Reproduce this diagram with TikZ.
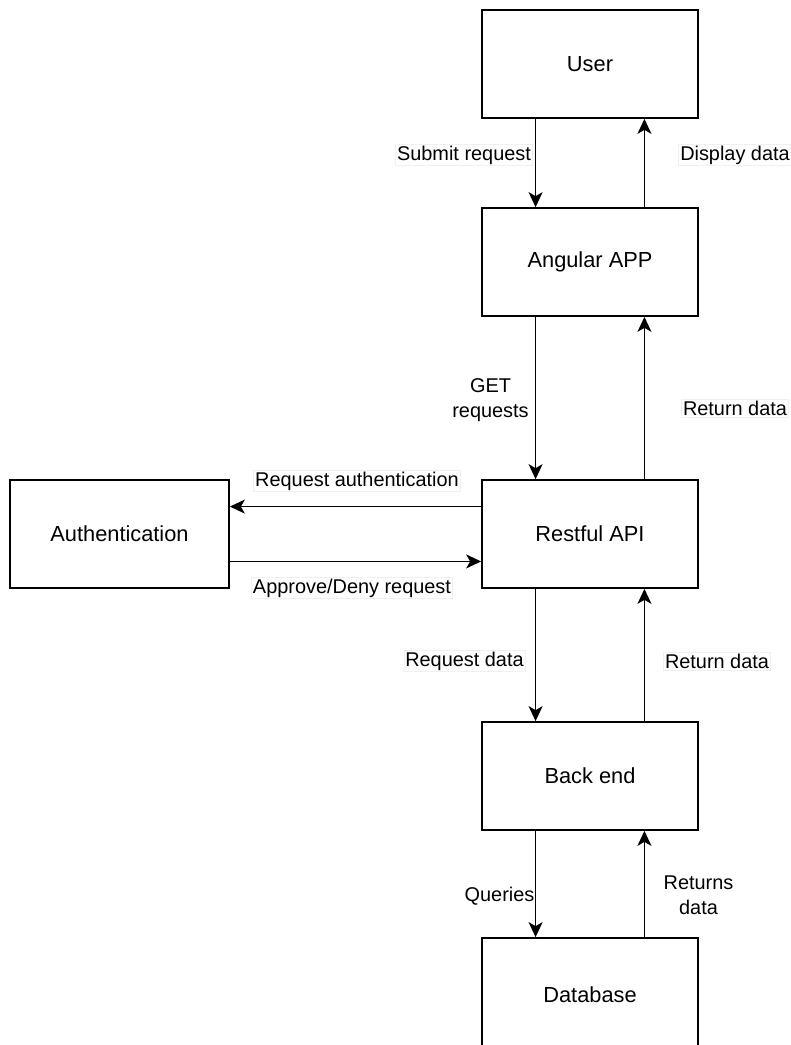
\documentclass[tikz,border=0pt]{standalone}
\usepackage{fontspec}
\setmainfont{Liberation Sans}
\usetikzlibrary{arrows.meta,calc}
\begin{document}
\begin{tikzpicture}[x=1pt,y=-1pt,
  box/.style={draw=black,line width=1.7pt,fill=white,minimum width=216pt,minimum height=108pt,
    inner sep=0pt,font=\fontsize{21.8}{26}\selectfont},
  flow/.style={line width=1.7pt,-{Stealth[length=15pt,width=14pt,inset=4pt]}},
  lbl/.style={fill=white,draw=black!6,line width=0.6pt,inner sep=1.5pt,align=center,
    font=\fontsize{19.9}{25}\selectfont}]
\useasboundingbox (0,0) rectangle (791,1045);

% components
\node[box] (user) at (590,64) {User};
\node[box] (app) at (590,262) {Angular APP};
\node[box] (api) at (590,534) {Restful API};
\node[box,minimum width=219pt] (auth) at (119.5,534) {Authentication};
\node[box] (be) at (590,776) {Back end};
\node[box,minimum height=114pt] (db) at (590,995) {Database};

% vertical request / response pairs
\draw[flow] ($(user.south west)!0.25!(user.south east)$) -- ($(app.north west)!0.25!(app.north east)$);
\draw[flow] ($(app.north west)!0.75!(app.north east)$) -- ($(user.south west)!0.75!(user.south east)$);
\draw[flow] ($(app.south west)!0.25!(app.south east)$) -- ($(api.north west)!0.25!(api.north east)$);
\draw[flow] ($(api.north west)!0.75!(api.north east)$) -- ($(app.south west)!0.75!(app.south east)$);
\draw[flow] ($(api.south west)!0.25!(api.south east)$) -- ($(be.north west)!0.25!(be.north east)$);
\draw[flow] ($(be.north west)!0.75!(be.north east)$) -- ($(api.south west)!0.75!(api.south east)$);
\draw[flow] ($(be.south west)!0.25!(be.south east)$) -- ($(db.north west)!0.25!(db.north east)$);
\draw[flow] ($(db.north west)!0.75!(db.north east)$) -- ($(be.south west)!0.75!(be.south east)$);

% authentication exchange
\draw[flow] ($(api.north west)!0.25!(api.south west)$) -- ($(auth.north east)!0.25!(auth.south east)$);
\draw[flow] ($(auth.north east)!0.75!(auth.south east)$) -- ($(api.north west)!0.75!(api.south west)$);

% labels
\node[lbl] (l1) at (464,155) {Submit request};
\node[lbl] (l2) at (735,155) {Display data};
\node[lbl,draw=none] (l3) at (490.5,400) {GET\\requests};
\node[lbl] (l4) at (735,408) {Return data};
\node[lbl] (l5) at (357,481) {Request authentication};
\node[lbl] (l6) at (352,588) {Approve/Deny request};
\node[lbl] (l7) at (464.5,661) {Request data};
\node[lbl] (l8) at (717,661) {Return data};
\node[lbl,fill=none,draw=none] (l9) at (499.5,896) {Queries};
\node[lbl,draw=none] (l10) at (698.5,895.5) {Returns\\data};
\end{tikzpicture}
\end{document}
